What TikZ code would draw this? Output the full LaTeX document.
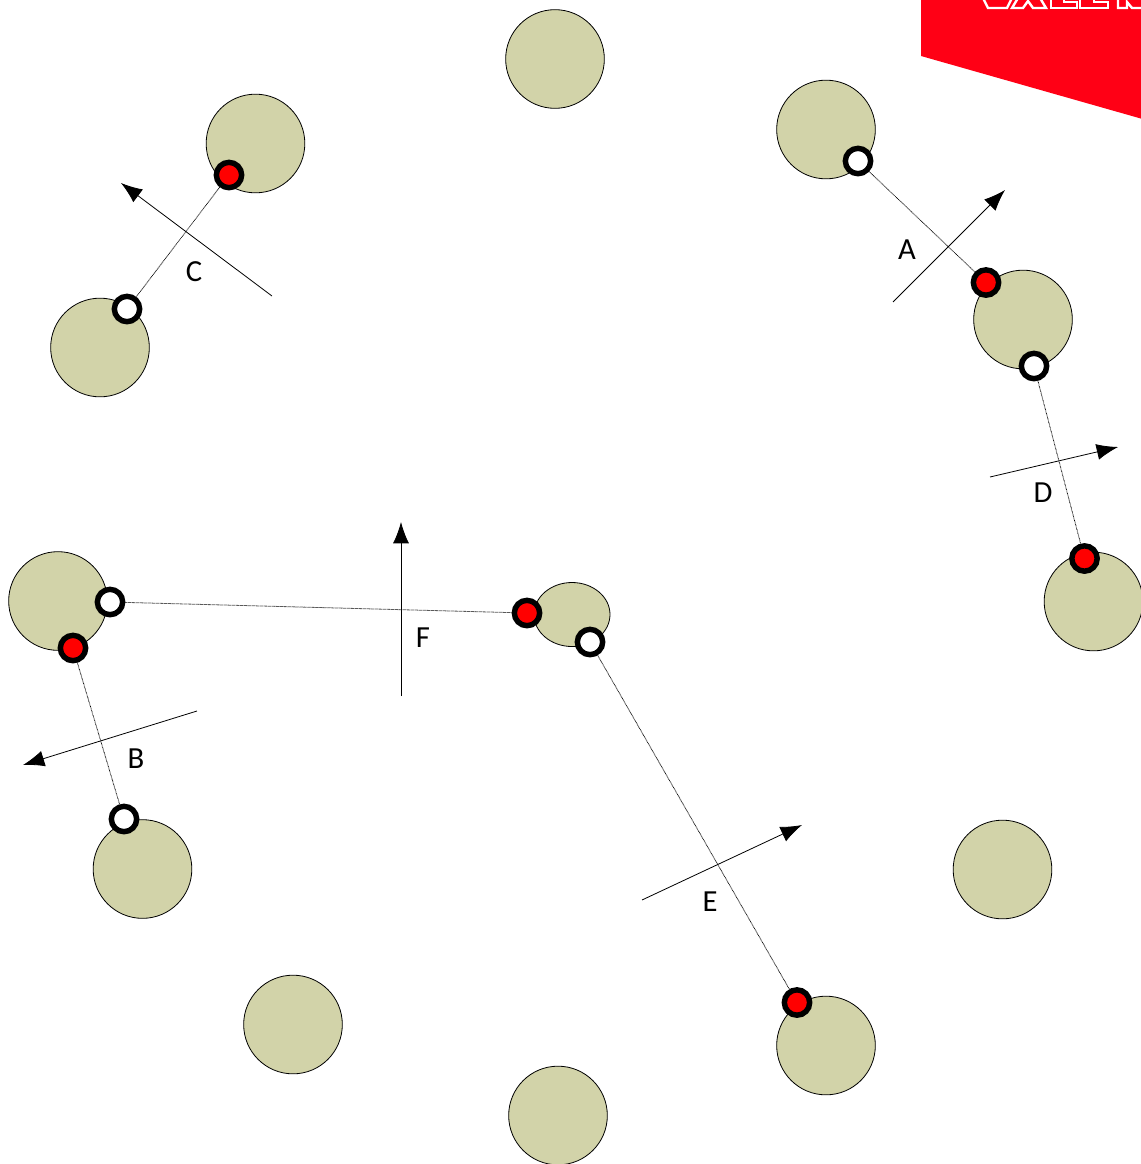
\documentclass[tikz,border=0pt]{standalone}
\usepackage{fontspec}
\setmainfont{Carlito}
\usetikzlibrary{arrows.meta,shapes.geometric}
\definecolor{ballfill}{HTML}{D2D3A9}
\definecolor{signred}{HTML}{FF0015}
\tikzset{
  x=0.75pt,y=-0.75pt,
  ball/.style={circle,draw=black,line width=0.6pt,fill=ballfill,minimum size=74pt,inner sep=0pt},
  redpin/.style={circle,draw=black,line width=4.1pt,fill=red,minimum size=19pt,inner sep=0pt},
  whitepin/.style={circle,draw=black,line width=4.1pt,fill=white,minimum size=19pt,inner sep=0pt},
  tether/.style={draw=black,line width=0.6pt,dash pattern=on 0.5pt off 0.5pt},
  normal/.style={draw=black,line width=0.6pt,-{Latex[length=16pt,width=12pt]}},
  lab/.style={font=\fontsize{23}{27}\selectfont,inner sep=0pt},
  signletter/.style={draw=white,line width=1.8pt,line join=miter},
}
\begin{document}
\begin{tikzpicture}
\useasboundingbox (0,0) rectangle (1141,1164);
\begin{scope}
\clip (0,0) rectangle (1141,1164);
\fill[signred] (921,-5) -- (1146,-5) -- (1146,120) -- (921,56) -- cycle;
\draw[signletter] (983,-2) -- (988,8) -- (1007,8) -- (1012,-2);
\draw[signletter] (1018,-2) -- (1012,8) -- (1023,8) -- (1028,1) -- (1033,8) -- (1046,8) -- (1040,-2);
\draw[signletter] (1051,-2) -- (1051,8) -- (1077,8) -- (1077,2) -- (1064,2) -- (1064,-2);
\draw[signletter] (1080,-2) -- (1080,8) -- (1108,8) -- (1108,2) -- (1094,2) -- (1094,-2);
\draw[signletter] (1118,-2) -- (1118,8) -- (1127,8) -- (1127,2) -- (1132,8) -- (1146,8);
\node[ball] (n1) at (555,59) {};
\node[ball] (n2) at (826,129.5) {};
\node[ball] (n3) at (255.5,143.5) {};
\node[ball] (n4) at (1023,319.5) {};
\node[ball] (n5) at (100,347.5) {};
\node[ball] (n6) at (58,601) {};
\node[ball] (n7) at (1093.5,601.5) {};
\node[ball] (n8) at (142.5,869) {};
\node[ball] (n9) at (1002.5,869.5) {};
\node[ball] (n10) at (293,1024.5) {};
\node[ball] (n11) at (826,1045.5) {};
\node[ball] (n12) at (558,1115.5) {};
\node[draw=black,line width=0.6pt,fill=ballfill,ellipse,minimum width=57pt,minimum height=48pt,inner sep=0pt] (n13) at (572,614.5) {};
\end{scope}
\node[whitepin] (wa) at (858,161) {};
\node[redpin] (ra) at (986,282.5) {};
\node[whitepin] (wd) at (1034,366) {};
\node[redpin] (rd) at (1084.5,558.5) {};
\node[redpin] (rc) at (229,175) {};
\node[whitepin] (wc) at (127,309) {};
\node[whitepin] (wf) at (110,602) {};
\node[redpin] (rf) at (527,613) {};
\node[redpin] (rb) at (73,648) {};
\node[whitepin] (wb) at (124,819) {};
\node[whitepin] (we) at (590,642) {};
\node[redpin] (re) at (797,1002.5) {};
\draw[tether] (wa) -- (ra);
\draw[tether] (wd) -- (rd);
\draw[tether] (rc) -- (wc);
\draw[tether] (wf) -- (rf);
\draw[tether] (rb) -- (wb);
\draw[tether] (we) -- (re);
\coordinate (as) at (893,302); \coordinate (ae) at (1005,190);
\coordinate (cs) at (272,296); \coordinate (ce) at (121,183);
\coordinate (ds) at (990,477); \coordinate (de) at (1118,447);
\coordinate (fs) at (401,696); \coordinate (fe) at (401,522);
\coordinate (bs) at (197,711); \coordinate (be) at (23,765);
\coordinate (es) at (642,900); \coordinate (ee) at (802,825);
\draw[normal] (as) -- (ae);
\draw[normal] (cs) -- (ce);
\draw[normal] (ds) -- (de);
\draw[normal] (fs) -- (fe);
\draw[normal] (bs) -- (be);
\draw[normal] (es) -- (ee);
\node[lab] (la) at (907,250) {A};
\node[lab] (lb) at (136,759) {B};
\node[lab] (lc) at (194,272) {C};
\node[lab] (ld) at (1043,492.5) {D};
\node[lab] (le) at (710,901.5) {E};
\node[lab] (lf) at (423,637.5) {F};
\end{tikzpicture}
\end{document}
